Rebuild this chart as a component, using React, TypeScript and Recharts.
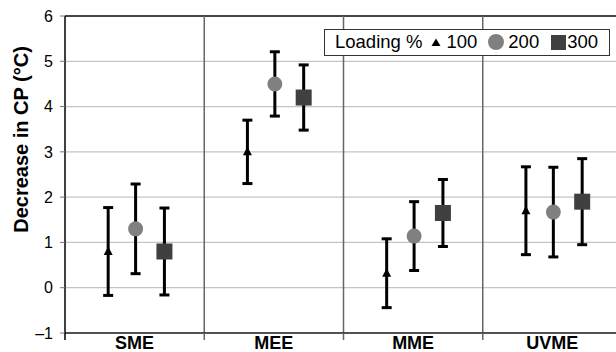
import React from 'react';
import { ScatterChart, Scatter, XAxis, YAxis, CartesianGrid, ErrorBar, ReferenceLine, Legend } from 'recharts';

const categories = ['SME', 'MEE', 'MME', 'UVME'];
const seriesNames = ['100', '200', '300'];
const load100 = [0.8, 3.0, 0.32, 1.7];
const err100 = [0.97, 0.7, 0.76, 0.97];
const load200 = [1.3, 4.5, 1.14, 1.67];
const err200 = [0.99, 0.71, 0.76, 0.99];
const load300 = [0.8, 4.2, 1.65, 1.9];
const err300 = [0.96, 0.72, 0.74, 0.95];
const yTicks = [-1, 0, 1, 2, 3, 4, 5, 6];

const FONT = '"Liberation Sans", Arial, Helvetica, sans-serif';
const offsets = [-0.19, 0.007, 0.214];

const build = (vals: number[], errs: number[], k: number) =>
  vals.map((v, i) => ({ x: i + 0.5 + offsets[k], y: v, err: errs[i], cat: categories[i] }));

const data100 = build(load100, err100, 0);
const data200 = build(load200, err200, 1);
const data300 = build(load300, err300, 2);

const xTicks: number[] = [];
for (let i = 0; i <= categories.length * 2; i++) xTicks.push(i / 2);

const Triangle = (p: any) => {
  const { cx, cy } = p;
  return <path d={`M${cx},${cy - 5} L${cx + 4.5},${cy + 3.5} L${cx - 4.5},${cy + 3.5} Z`} fill="#000" />;
};
const Circle = (p: any) => <circle cx={p.cx} cy={p.cy} r={7.5} fill="#808080" />;
const Square = (p: any) => <rect x={p.cx - 8} y={p.cy - 8} width={16} height={16} fill="#404040" />;

const XTick = (p: any) => {
  const { x, y, payload } = p;
  const v = payload.value;
  if (Number.isInteger(v)) {
    return <line x1={x} x2={x} y1={y} y2={y + 7} stroke={v === 0 ? '#000' : '#666'} strokeWidth={1.5} />;
  }
  const label = categories[Math.floor(v)];
  return (
    <text x={x} y={y + 16} textAnchor="middle" fontFamily={FONT} fontWeight="bold" fontSize={18} fill="#000">
      {label}
    </text>
  );
};

const YLabel = (p: any) => {
  const vb = p.viewBox || { x: 0, y: 16, height: 317 };
  const cx = vb.x + 28;
  const cy = vb.y + vb.height / 2 - 35;
  return (
    <text x={cx} y={cy} transform={`rotate(-90, ${cx}, ${cy})`} textAnchor="middle" fontFamily={FONT} fontWeight="bold" fontSize={20} fill="#000">
      Decrease in CP (°C)
    </text>
  );
};

const LegendBox = (p: any) => {
  const payload = p.payload || [];
  const icons = [
    <svg width={10} height={9} style={{ marginLeft: 9, marginRight: 5 }} key="t"><path d="M5,0.5 L9.5,8 L0.5,8 Z" fill="#000" /></svg>,
    <svg width={16} height={16} style={{ marginLeft: 11, marginRight: 4 }} key="c"><circle cx={8} cy={8} r={8} fill="#808080" /></svg>,
    <svg width={15} height={15} style={{ marginLeft: 12, marginRight: 1 }} key="s"><rect x={0} y={0} width={15} height={15} fill="#404040" /></svg>,
  ];
  return (
    <div style={{ boxSizing: 'border-box', width: 286, height: 27, border: '1px solid #333', background: '#fff', display: 'flex', alignItems: 'center', paddingLeft: 10, fontFamily: FONT, fontSize: 18.5, color: '#000', whiteSpace: 'nowrap' }}>
      <span>Loading %</span>
      {payload.map((e: any, i: number) => (
        <React.Fragment key={i}>
          {icons[i]}
          <span>{e.value}</span>
        </React.Fragment>
      ))}
    </div>
  );
};

export default function App() {
  return (
    <div style={{ position: 'absolute', left: 0, top: 0, width: 616, height: 352, overflow: 'hidden', background: '#fff' }}>
      <ScatterChart width={624} height={352} margin={{ top: 16, right: 2, bottom: 0, left: 0 }}>
        <CartesianGrid horizontal vertical={false} stroke="#c4c4c4" strokeWidth={1.2} />
        <XAxis
          type="number"
          dataKey="x"
          domain={[0, categories.length]}
          ticks={xTicks}
          interval={0}
          tickSize={0}
          tickMargin={0}
          tickLine={false}
          tick={<XTick />}
          axisLine={{ stroke: '#222', strokeWidth: 1.5 }}
          height={19}
        />
        <YAxis
          type="number"
          dataKey="y"
          domain={[-1, 6]}
          ticks={yTicks}
          interval={0}
          width={65}
          tickSize={5}
          tickMargin={7}
          tickLine={{ stroke: '#777' }}
          axisLine={{ stroke: '#000', strokeWidth: 1.5 }}
          tick={{ fontFamily: FONT, fontSize: 16, fill: '#000' }}
          tickFormatter={(v: number) => (v < 0 ? '\u2013' + Math.abs(v) : String(v))}
          label={{ content: <YLabel /> }}
        />
        <ReferenceLine y={6} stroke="#111" strokeWidth={1.5} />
        {[1, 2, 3].map((v) => (
          <ReferenceLine key={v} x={v} stroke="#666" strokeWidth={1.5} />
        ))}
        <Legend
          layout="vertical"
          align="center"
          verticalAlign="middle"
          wrapperStyle={{ top: 28.5, left: 324, width: 286, height: 27 }}
          content={<LegendBox />}
        />
        <Scatter name={seriesNames[0]} data={data100} shape={Triangle} isAnimationActive={false}>
          <ErrorBar dataKey="err" direction="y" width={5} strokeWidth={3} stroke="#000" />
        </Scatter>
        <Scatter name={seriesNames[1]} data={data200} shape={Circle} isAnimationActive={false}>
          <ErrorBar dataKey="err" direction="y" width={5} strokeWidth={3} stroke="#000" />
        </Scatter>
        <Scatter name={seriesNames[2]} data={data300} shape={Square} isAnimationActive={false}>
          <ErrorBar dataKey="err" direction="y" width={5} strokeWidth={3} stroke="#000" />
        </Scatter>
      </ScatterChart>
    </div>
  );
}
